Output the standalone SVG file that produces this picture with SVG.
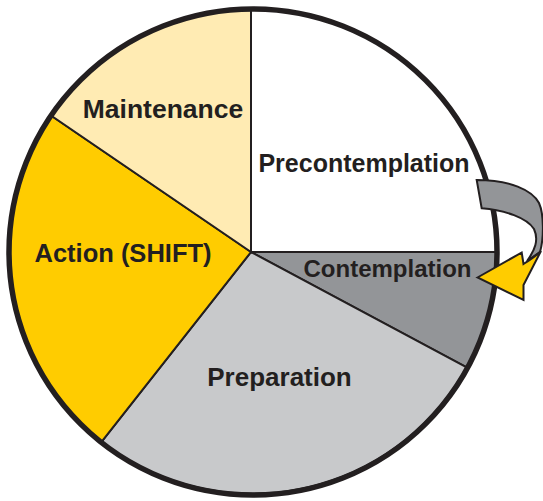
<svg xmlns="http://www.w3.org/2000/svg" width="543" height="501" viewBox="0 0 543 501">
<style>
.w{stroke:#231F20;stroke-width:2;stroke-linejoin:miter}
.t{font-family:"Liberation Sans",Arial,sans-serif;font-weight:bold;fill:#231F20;text-anchor:middle}
</style>
<rect width="543" height="501" fill="#FFFFFF"/>
<g id="precontemplation">
<path class="w" fill="#FFFFFF" d="M251,252 L251,9 A244,243 0 0,1 497,252 Z"/>
<text class="t" x="364" y="172" font-size="25">Precontemplation</text>
</g>
<g id="contemplation">
<path class="w" fill="#939598" d="M251,252 L497,252 A244,243 0 0,1 466.7,367.3 Z"/>
<text class="t" x="387.5" y="277" font-size="24">Contemplation</text>
</g>
<g id="preparation">
<path class="w" fill="#C8C9CB" d="M251,252 L466.7,367.3 A244,243 0 0,1 101.7,441.7 Z"/>
<text class="t" x="279.5" y="386" font-size="26">Preparation</text>
</g>
<g id="action">
<path class="w" fill="#FFCC00" d="M251,252 L101.7,441.7 A244,243 0 0,1 51,115.5 Z"/>
<text class="t" x="123" y="262" font-size="25.5">Action (SHIFT)</text>
</g>
<g id="maintenance">
<path class="w" fill="#FFEBB3" d="M251,252 L51,115.5 A244,243 0 0,1 251,9 Z"/>
<text class="t" x="163" y="118" font-size="26.5">Maintenance</text>
</g>
<ellipse cx="253" cy="252" rx="244" ry="243" fill="none" stroke="#231F20" stroke-width="5.5"/>
<g id="connectors">
<path d="M476.7,180 C510,180 532,190 539,203 C544,214 544,238 540,252 L527,261 C535,250 539,240 534,229 C527,218 505,210 481.7,208.3 Z" fill="#939598" stroke="#231F20" stroke-width="2" stroke-linejoin="miter"/>
<path d="M477.5,277.5 L521.7,252.5 L523.5,264 C530,260 536,256 541,251 L523.5,285 L523.5,300 Z" fill="#FFCC00" stroke="#231F20" stroke-width="2" stroke-linejoin="miter"/>
</g>
</svg>
